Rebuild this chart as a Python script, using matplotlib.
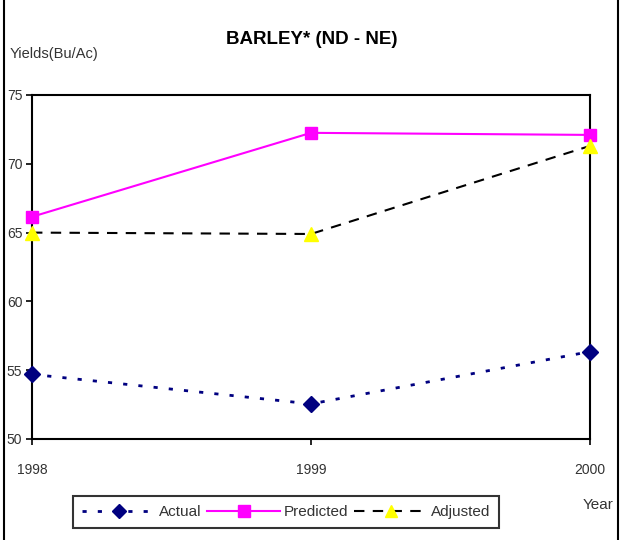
import matplotlib
matplotlib.use("Agg")
import matplotlib.pyplot as plt
from matplotlib.lines import Line2D

plt.rcParams['font.family'] = ['Liberation Sans', 'DejaVu Sans']

years = [1998, 1999, 2000]
actual = [54.7, 52.55, 56.35]
predicted = [66.15, 72.25, 72.1]
adjusted = [65.0, 64.9, 71.3]
yticks = [50, 55, 60, 65, 70, 75]

fig = plt.figure(figsize=(6.21, 5.40), dpi=100)
ax = fig.add_axes([32/621, 1-439/540, (590-32)/621, (439-95)/540])

ax.plot(years, actual, color='#000080', linestyle=(0, (1.5, 4)), linewidth=2,
        marker='D', markersize=8, markerfacecolor='#000080', markeredgecolor='#000080',
        label='Actual', zorder=3, clip_on=False)
ax.plot(years, predicted, color='#FF00FF', linestyle='-', linewidth=1.5,
        marker='s', markersize=9, markerfacecolor='#FF00FF', markeredgecolor='#FF00FF',
        label='Predicted', zorder=3, clip_on=False)
ax.plot(years, adjusted, color='black', linestyle=(0, (5, 4)), linewidth=1.5,
        marker='^', markersize=10, markerfacecolor='#FFFF00', markeredgecolor='#FFFF00',
        label='Adjusted', zorder=4, clip_on=False)

ax.set_xlim(1998, 2000)
ax.set_ylim(50, 75)
ax.set_yticks(yticks)
ax.set_xticks(years)
ax.set_xticklabels([str(y) for y in years])
for s in ax.spines.values():
    s.set_linewidth(1.5)
    s.set_color('black')
ax.tick_params(axis='both', direction='out', length=4, width=1.2, labelsize=10,
               labelcolor='#333333', pad=3)
ax.tick_params(axis='x', pad=13)

fig.text(312/621, 1-40/540, 'BARLEY* (ND - NE)', ha='center', va='center',
         fontsize=13.5, fontweight='bold')
fig.text(10/621, 1-54/540, 'Yields(Bu/Ac)', ha='left', va='center', fontsize=10.5, color='#333333')
fig.text(598/621, 1-505/540, 'Year', ha='center', va='center', fontsize=11, color='#333333')

handles, labels = ax.get_legend_handles_labels()
leg = fig.legend(handles, labels, loc='center', bbox_to_anchor=(286/621, 1-512/540),
                 ncol=3, frameon=True, fancybox=False, fontsize=11, handlelength=4.8,
                 columnspacing=0.4, handletextpad=0.2, borderpad=0.6, markerscale=0.9)
leg.get_frame().set_edgecolor('black')
leg.get_frame().set_linewidth(1.5)
for t in leg.get_texts():
    t.set_color('#333333')

# outer chart border (left and right edges)
fig.add_artist(Line2D([4/621, 4/621], [0, 1], color='black', linewidth=1.5, transform=fig.transFigure))
fig.add_artist(Line2D([618/621, 618/621], [0, 1], color='black', linewidth=1.5, transform=fig.transFigure))

fig.savefig('out.png', dpi=100)
